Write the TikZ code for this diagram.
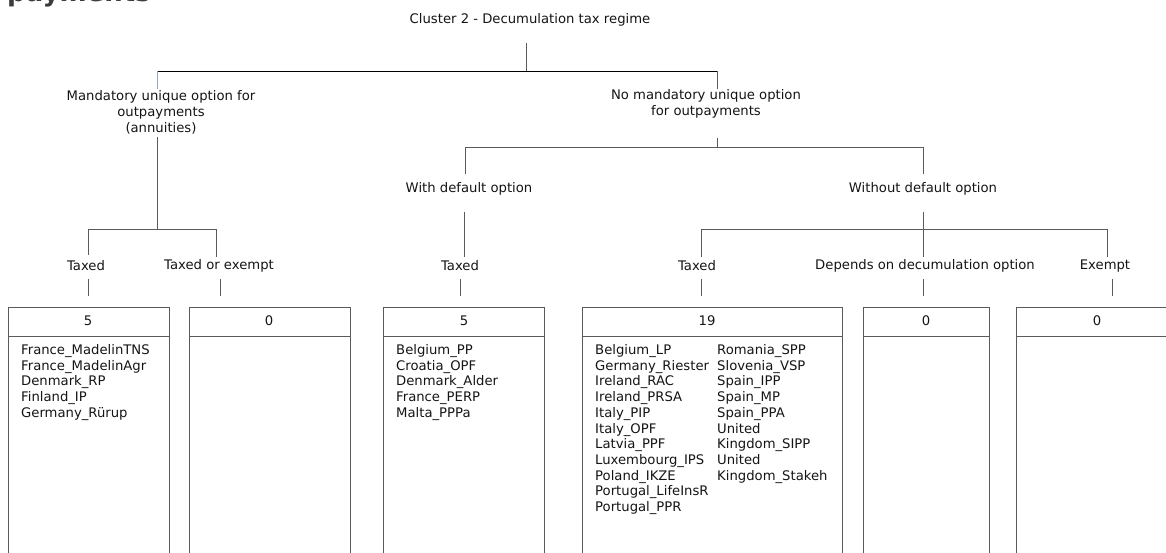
\documentclass[tikz,border=0pt]{standalone}
\usepackage{fontspec}
\setmainfont{DejaVu Sans}
\definecolor{ink}{HTML}{141414}
\definecolor{wire}{HTML}{5A5A5A}
\definecolor{tickblue}{HTML}{8EA8CA}
\definecolor{headgray}{HTML}{3C3C3C}
\begin{document}
\begin{tikzpicture}[x=1pt,y=-1pt,
  lbl/.style={inner sep=0pt, text=ink, font=\fontsize{13.2}{16}\selectfont, align=center},
  item/.style={inner sep=0pt, text=ink, font=\fontsize{13.2}{16}\selectfont, anchor=base west},
  wireline/.style={draw=wire, line width=0.9pt},
  boxline/.style={draw=wire, line width=1pt}
]
\useasboundingbox (0,0) rectangle (1166,552);
\clip (0,0) rectangle (1166,552);

% page heading, cut off at the top edge
\node[inner sep=0pt, anchor=base west, text=headgray,
      font=\fontsize{26}{30}\selectfont\bfseries] (heading) at (7,1) {payments};

% root and first split
\node[lbl] (root) at (530,20) {Cluster 2 - Decumulation tax regime};
\node[lbl] (mand) at (161,112) {Mandatory unique option for\\outpayments\\(annuities)};
\node[lbl] (nomand) at (706,104) {No mandatory unique option\\for outpayments};

\coordinate (rootdown) at (526,43);
\coordinate (busL) at (157,71);
\coordinate (busR) at (717,71);
\coordinate (busM) at (526,71);
\draw[wireline] (rootdown) -- (busM);
\draw[draw=black, line width=0.9pt] (busL) -- (busR);
\draw[draw=tickblue, line width=0.9pt] (busL) -- (157,89);
\draw[wireline] (busR) -- (717,89);

% left branch: mandatory annuities
\coordinate (mandDown) at (157,137);
\coordinate (mandBus) at (157,229);
\coordinate (mbL) at (88,229);
\coordinate (mbR) at (216,229);
\draw[wireline] (mandDown) -- (mandBus);
\draw[wireline] (mbL) -- (mbR);
\draw[wireline] (mbL) -- (88,255);
\draw[wireline] (mbR) -- (216,257);

\node[lbl] (taxA) at (86,266) {Taxed};
\node[lbl] (toe) at (219,266) {Taxed or exempt};

% right branch: no mandatory option
\coordinate (nmDown) at (717,138);
\coordinate (nmBus) at (717,147);
\coordinate (nbL) at (465,147);
\coordinate (nbR) at (923,147);
\draw[wireline] (nmDown) -- (nmBus);
\draw[wireline] (nbL) -- (nbR);
\draw[wireline] (nbL) -- (465,174);
\draw[wireline] (nbR) -- (923,174);

\node[lbl] (withdef) at (469,189) {With default option};
\node[lbl] (withoutdef) at (923,189) {Without default option};

\draw[wireline] (464,212) -- (464,257);
\node[lbl] (taxB) at (460,266) {Taxed};

\coordinate (wdDown) at (923,212);
\coordinate (wbL) at (701,229);
\coordinate (wbR) at (1107,229);
\draw[wireline] (wdDown) -- (923,257);
\draw[wireline] (wbL) -- (wbR);
\draw[wireline] (wbL) -- (701,257);
\draw[wireline] (wbR) -- (1107,257);

\node[lbl] (taxC) at (697,266) {Taxed};
\node[lbl] (dep) at (925,266) {Depends on decumulation option};
\node[lbl] (exm) at (1105,266) {Exempt};

% short drops into the result boxes
\draw[wireline] (88,279) -- (88,296);
\draw[wireline] (220,279) -- (220,296);
\draw[wireline] (460,279) -- (460,296);
\draw[wireline] (701,279) -- (701,296);
\draw[wireline] (923,279) -- (923,296);
\draw[wireline] (1112,279) -- (1112,296);

% result boxes: count header and list body
\foreach \name/\xa/\xb/\cnt/\cx in {boxA/8/169/5/88, boxB/189/350/0/269, boxC/383/544/5/464,
                                  boxD/582/842/19/707, boxE/863/989/0/926, boxF/1016/1178/0/1097} {
  \draw[boxline] (\xa,570) -- (\xa,307) -- (\xb,307) -- (\xb,570);
  \draw[boxline] (\xa,336) -- (\xb,336);
  \node[lbl] (\name-count) at (\cx,321) {\cnt};
}

% list entries
\foreach \t [count=\i] in {France\_MadelinTNS, France\_MadelinAgr, Denmark\_RP, Finland\_IP, Germany\_Rürup}
  \node[item] (la-\i) at (21,{354.5+15.7*(\i-1)}) {\t};

\foreach \t [count=\i] in {Belgium\_PP, Croatia\_OPF, Denmark\_Alder, France\_PERP, Malta\_PPPa}
  \node[item] (lc-\i) at (396,{354.5+15.7*(\i-1)}) {\t};

\foreach \t [count=\i] in {Belgium\_LP, Germany\_Riester, Ireland\_RAC, Ireland\_PRSA, Italy\_PIP,
                          Italy\_OPF, Latvia\_PPF, Luxembourg\_IPS, Poland\_IKZE,
                          Portugal\_LifeInsR, Portugal\_PPR}
  \node[item] (ld-\i) at (595,{354.5+15.7*(\i-1)}) {\t};

\foreach \t [count=\i] in {Romania\_SPP, Slovenia\_VSP, Spain\_IPP, Spain\_MP, Spain\_PPA,
                          United, Kingdom\_SIPP, United, Kingdom\_Stakeh}
  \node[item] (le-\i) at (717,{354.5+15.7*(\i-1)}) {\t};

\end{tikzpicture}
\end{document}
